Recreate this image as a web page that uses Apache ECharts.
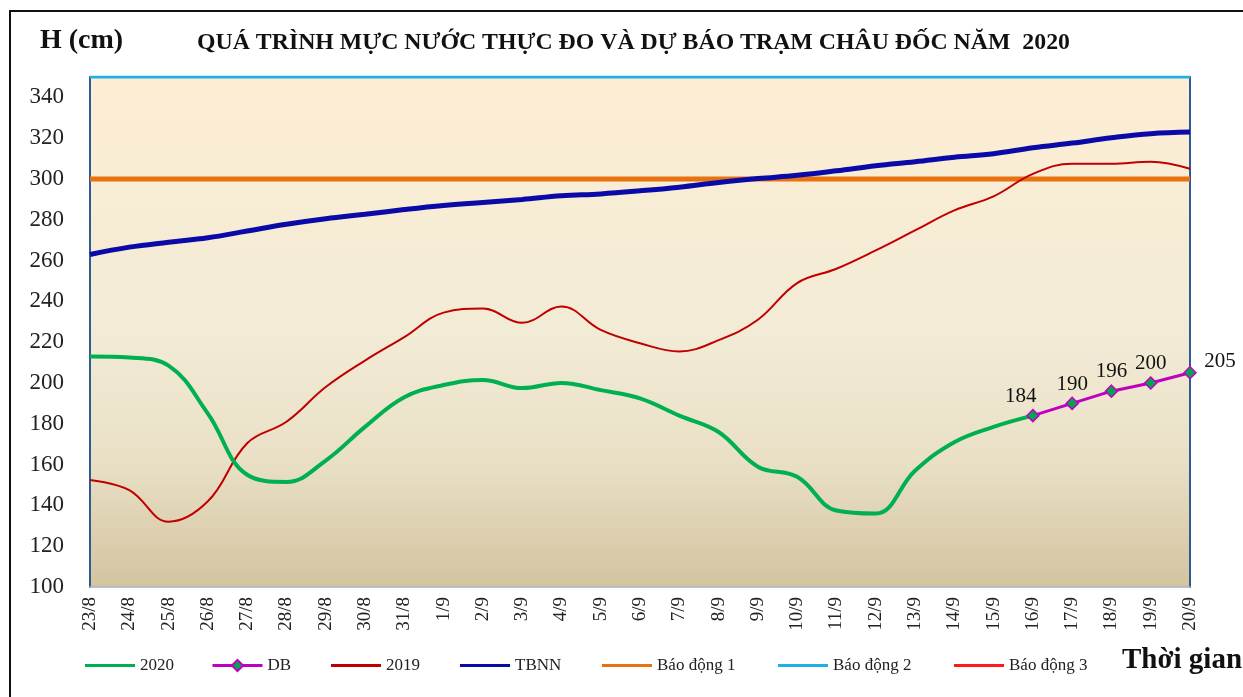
<!DOCTYPE html>
<html>
<head>
<meta charset="utf-8">
<script src="https://cdn.jsdelivr.net/npm/echarts@6/dist/echarts.min.js"></script>
<style>
html,body{margin:0;padding:0;background:#fff;}
#chart{width:1243px;height:697px;}
</style>
</head>
<body>
<div id="chart"></div>
<script>
var categories = ['23/8','24/8','25/8','26/8','27/8','28/8','29/8','30/8','31/8','1/9','2/9','3/9','4/9','5/9','6/9','7/9','8/9','9/9','10/9','11/9','12/9','13/9','14/9','15/9','16/9','17/9','18/9','19/9','20/9'];
var obs2020 = [213,212.5,208.5,185,155,151.5,162,178.5,193,199,201.5,197.5,200,196.5,192.5,184,176,159,154,137.5,136,157,171,178.5,184,null,null,null,null];
var forecastDB = [null,null,null,null,null,null,null,null,null,null,null,null,null,null,null,null,null,null,null,null,null,null,null,null,184,190,196,200,205];
var y2019 = [152.5,147.5,132,142,170.5,181,198,211,222.5,234.5,236.5,229.5,237.5,226,219.5,215.5,221,231,249,256,265,274.8,284.6,291.5,302.5,307.5,307.5,308.5,305];
var tbnn = [263,266.6,269,271.2,274.5,277.8,280.5,282.7,285,287,288.5,290,291.8,292.7,294.2,296,298.3,300.2,301.8,304,306.5,308.5,310.7,312.4,315.3,317.6,320.2,322.2,323];
var alarm1 = [300,300,300,300,300,300,300,300,300,300,300,300,300,300,300,300,300,300,300,300,300,300,300,300,300,300,300,300,300];
var alarm2 = [350,350,350,350,350,350,350,350,350,350,350,350,350,350,350,350,350,350,350,350,350,350,350,350,350,350,350,350,350];
var alarm3 = [400,400,400,400,400,400,400,400,400,400,400,400,400,400,400,400,400,400,400,400,400,400,400,400,400,400,400,400,400];
var yTicks = {min:100, max:350, interval:20};
var labelOffsets = [[-12,0],[0,0],[0,0],[0,0],[30,8]];

var FONT = '"Liberation Serif","Times New Roman",serif';
var chart = echarts.init(document.getElementById('chart'), null, {renderer:'canvas'});

var legendItems = [
  {name:'2020', left:80},
  {name:'DB', left:206},
  {name:'2019', left:326},
  {name:'TBNN', left:455},
  {name:'Báo động 1', left:597},
  {name:'Báo động 2', left:773},
  {name:'Báo động 3', left:949}
];
var legends = legendItems.map(function(it){
  var isDB = it.name === 'DB';
  return {
    data:[isDB ? {name:it.name} : {name:it.name, icon:'rect'}],
    left:it.left, top:652, itemWidth:50, itemHeight: isDB ? 14 : 3, itemGap:0,
    textStyle:{fontFamily:FONT, fontSize:17, color:'#222'},
    lineStyle:{width:3}, selectedMode:false
  };
});

var dbLabelData = forecastDB.map(function(v, i){
  if (v === null) return null;
  var k = i - 24;
  return {value:v, label:{offset:labelOffsets[k]}};
});

var option = {
  animation:false,
  backgroundColor:'#ffffff',
  title:[
    {text:'H (cm)', left:35, top:22, textStyle:{fontFamily:FONT, fontSize:28, fontWeight:'bold', color:'#111'}},
    {text:'QUÁ TRÌNH MỰC NƯỚC THỰC ĐO VÀ DỰ BÁO TRẠM CHÂU ĐỐC NĂM  2020', left:192, top:26, textStyle:{fontFamily:FONT, fontSize:23.8, fontWeight:'bold', color:'#111'}}
  ],
  legend:legends,
  graphic:[
    {type:'rect', shape:{x:10,y:11,width:1260,height:720}, style:{fill:null, stroke:'#111', lineWidth:2}, silent:true, z:-10},
    {type:'text', left:1122, top:646, style:{text:'Thời gian', fontFamily:FONT, fontSize:29, fontWeight:'bold', fill:'#111'}}
  ],
  grid:{left:90, right:53, top:77, bottom:110, show:true, borderWidth:0,
    backgroundColor:new echarts.graphic.LinearGradient(0,0,0,1,[
      {offset:0,color:'#fdeed3'},{offset:0.5,color:'#f2ebd6'},{offset:0.75,color:'#e9e0c6'},{offset:1,color:'#d4c4a0'}
    ])},
  xAxis:{type:'category', data:categories, boundaryGap:false,
    axisLine:{show:true, lineStyle:{color:'#a8b4c6', width:1.5}},
    axisTick:{show:false},
    axisLabel:{rotate:90, fontFamily:FONT, fontSize:19, color:'#222', margin:10, interval:0},
    splitLine:{show:false}},
  yAxis:[
    {type:'value', min:yTicks.min, max:yTicks.max, interval:yTicks.interval,
     axisLine:{show:true, lineStyle:{color:'#2f5b93', width:2}},
     axisTick:{show:false},
     axisLabel:{fontFamily:FONT, fontSize:23, color:'#222', margin:26, showMaxLabel:false},
     splitLine:{show:false}},
    {type:'value', min:yTicks.min, max:yTicks.max, interval:yTicks.interval, position:'right',
     axisLine:{show:true, lineStyle:{color:'#2f5b93', width:2}},
     axisTick:{show:false}, axisLabel:{show:false}, splitLine:{show:false}}
  ],
  series:[
    {name:'Báo động 3', type:'line', data:alarm3, symbol:'none', color:'#ff1a1a', lineStyle:{width:2.5, color:'#ff1a1a'}, z:2},
    {name:'Báo động 2', type:'line', data:alarm2, symbol:'none', color:'#22aee6', lineStyle:{width:3, color:'#22aee6'}, z:2},
    {name:'Báo động 1', type:'line', data:alarm1, symbol:'none', color:'#e8720f', lineStyle:{width:5, color:'#e8720f'}, z:3},
    {name:'TBNN', type:'line', data:tbnn, symbol:'none', smooth:0.4, color:'#0a0aa8', lineStyle:{width:5, color:'#0a0aa8'}, z:4},
    {name:'2019', type:'line', data:y2019, symbol:'none', smooth:0.4, color:'#c00000', lineStyle:{width:2, color:'#c00000'}, z:5},
    {name:'2020', type:'line', data:obs2020, symbol:'none', smooth:0.4, color:'#00b050', lineStyle:{width:4, color:'#00b050'}, z:6},
    {name:'DB', type:'line', data:dbLabelData, symbol:'diamond', symbolSize:12, color:'#c000c0',
     lineStyle:{width:3, color:'#c000c0'},
     itemStyle:{color:'#00a550', borderColor:'#c000c0', borderWidth:1.5},
     label:{show:true, position:'top', distance:2, fontFamily:FONT, fontSize:21, color:'#111'}, z:7}
  ]
};
chart.setOption(option);
</script>
</body>
</html>
